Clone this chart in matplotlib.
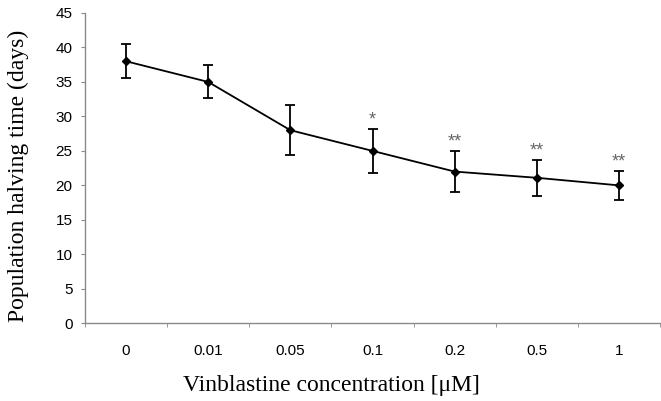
import numpy as np
import matplotlib
matplotlib.use("Agg")
import matplotlib.pyplot as plt

# Data
concentrations = ["0", "0.01", "0.05", "0.1", "0.2", "0.5", "1"]
halving_time = [38.0, 35.0, 28.0, 25.0, 22.0, 21.1, 20.0]
err = [2.5, 2.4, 3.6, 3.2, 3.0, 2.6, 2.1]
signif = ["", "", "", "*", "**", "**", "**"]

fig = plt.figure(figsize=(6.61, 4.01), dpi=100)
ax = fig.add_axes([0.1286, 0.1938, 0.87, 0.7738])

x = np.arange(len(concentrations))
ax.errorbar(x, halving_time, yerr=err, color="black", lw=1.3,
            marker="D", markersize=4, capsize=3.5, capthick=1.3,
            elinewidth=1.3)

# significance stars above the error bars
for xi, yi, e, s in zip(x, halving_time, err, signif):
    if s:
        ax.text(xi, yi + e + 0.1, s, ha="center", va="bottom",
                fontsize=13, color="#666666", family="Liberation Sans")

ax.set_xlim(-0.5, len(concentrations) - 0.5)
ax.set_ylim(0, 45)
ax.set_yticks(np.arange(0, 46, 5))
ax.set_xticks(x)
ax.set_xticklabels(concentrations)
ax.set_xticks(np.arange(-0.5, len(concentrations), 1.0), minor=True)

for side in ["top", "right"]:
    ax.spines[side].set_visible(False)
for side in ["left", "bottom"]:
    ax.spines[side].set_color("#8a8a8a")
    ax.spines[side].set_linewidth(1.0)

ax.tick_params(axis="y", direction="out", length=3, color="#8a8a8a",
               pad=6, labelsize=11)
ax.tick_params(axis="x", which="major", length=0, pad=15, labelsize=11)
ax.tick_params(axis="x", which="minor", direction="out", length=3,
               color="#8a8a8a")
for lab in ax.get_xticklabels() + ax.get_yticklabels():
    lab.set_family("Liberation Sans")

fig.text(331 / 661, 1 - 386 / 401, "Vinblastine concentration [\u03bcM]",
         ha="center", va="center", fontsize=17, family="Liberation Serif")
fig.text(18 / 661, 1 - 176 / 401, "Population halving time (days)",
         ha="center", va="center", rotation=90, fontsize=17,
         family="Liberation Serif")

fig.savefig("out.png", dpi=100)
